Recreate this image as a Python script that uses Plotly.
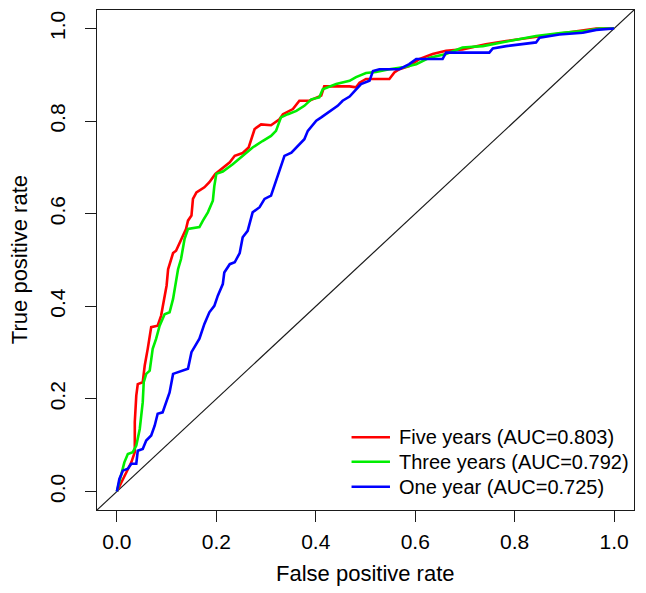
import plotly.graph_objects as go

# ---- data ----
five_fpr = [0, 0.012, 0.029, 0.036, 0.036, 0.039, 0.042, 0.052, 0.056, 0.062, 0.066, 0.069, 0.082, 0.089,
            0.092, 0.096, 0.1, 0.103, 0.109, 0.113, 0.119, 0.129, 0.139, 0.143, 0.15, 0.153, 0.16, 0.176,
            0.186, 0.198, 0.213, 0.227, 0.237, 0.253, 0.265, 0.27, 0.277, 0.29, 0.31, 0.327, 0.334, 0.354,
            0.367, 0.387, 0.401, 0.411, 0.417, 0.441, 0.468, 0.481, 0.488, 0.501, 0.548, 0.558, 0.568,
            0.588, 0.608, 0.635, 0.662, 0.695, 0.742, 0.783, 0.83, 0.856, 0.896, 0.937, 0.964, 1.0]
five_tpr = [0, 0.027, 0.063, 0.085, 0.15, 0.207, 0.232, 0.236, 0.272, 0.308, 0.337, 0.355, 0.358, 0.38,
            0.398, 0.423, 0.445, 0.48, 0.502, 0.515, 0.52, 0.545, 0.567, 0.585, 0.596, 0.632, 0.646, 0.657,
            0.668, 0.686, 0.7, 0.711, 0.725, 0.731, 0.743, 0.761, 0.783, 0.793, 0.791, 0.804, 0.815, 0.826,
            0.844, 0.844, 0.851, 0.855, 0.875, 0.875, 0.875, 0.873, 0.883, 0.891, 0.891, 0.905, 0.912,
            0.919, 0.934, 0.945, 0.952, 0.955, 0.966, 0.973, 0.98, 0.984, 0.991, 0.996, 1.0, 1.0]

three_fpr = [0, 0.009, 0.015, 0.022, 0.032, 0.039, 0.046, 0.049, 0.052, 0.054, 0.059, 0.066, 0.072, 0.079,
             0.086, 0.096, 0.106, 0.113, 0.116, 0.123, 0.129, 0.136, 0.143, 0.166, 0.173, 0.183, 0.193,
             0.196, 0.2, 0.213, 0.233, 0.253, 0.273, 0.293, 0.31, 0.32, 0.33, 0.344, 0.361, 0.377, 0.391,
             0.407, 0.414, 0.441, 0.468, 0.481, 0.501, 0.521, 0.548, 0.575, 0.602, 0.629, 0.662, 0.695,
             0.736, 0.789, 0.843, 0.896, 0.944, 0.97, 1.0]
three_tpr = [0, 0.035, 0.063, 0.081, 0.085, 0.099, 0.135, 0.164, 0.193, 0.236, 0.254, 0.261, 0.308, 0.33,
             0.358, 0.383, 0.387, 0.416, 0.437, 0.48, 0.502, 0.545, 0.567, 0.571, 0.585, 0.603, 0.628,
             0.66, 0.686, 0.691, 0.707, 0.725, 0.743, 0.757, 0.768, 0.779, 0.808, 0.815, 0.822, 0.833, 0.847,
             0.851, 0.869, 0.88, 0.887, 0.895, 0.904, 0.906, 0.912, 0.916, 0.923, 0.937, 0.945, 0.959,
             0.962, 0.973, 0.984, 0.991, 0.995, 1.0, 1.0]

one_fpr = [0, 0.005, 0.012, 0.022, 0.029, 0.039, 0.042, 0.052, 0.059, 0.069, 0.076, 0.082, 0.092, 0.099,
           0.106, 0.113, 0.123, 0.143, 0.15, 0.16, 0.166, 0.176, 0.186, 0.196, 0.203, 0.213, 0.216, 0.227,
           0.237, 0.247, 0.253, 0.263, 0.273, 0.287, 0.297, 0.31, 0.32, 0.33, 0.337, 0.351, 0.364, 0.377,
           0.384, 0.401, 0.411, 0.421, 0.434, 0.444, 0.454, 0.468, 0.478, 0.491, 0.508, 0.515, 0.528,
           0.568, 0.588, 0.602, 0.655, 0.662, 0.749, 0.756, 0.783, 0.843, 0.85, 0.89, 0.937, 0.964, 1.0]
one_tpr = [0, 0.027, 0.045, 0.049, 0.06, 0.06, 0.088, 0.092, 0.11, 0.121, 0.142, 0.168, 0.171, 0.193,
           0.214, 0.254, 0.258, 0.265, 0.301, 0.319, 0.33, 0.362, 0.387, 0.401, 0.423, 0.448, 0.473, 0.491,
           0.495, 0.515, 0.549, 0.563, 0.603, 0.614, 0.632, 0.639, 0.671, 0.703, 0.725, 0.732, 0.747, 0.761,
           0.779, 0.801, 0.808, 0.815, 0.826, 0.833, 0.844, 0.853, 0.865, 0.88, 0.887, 0.908, 0.912,
           0.912, 0.923, 0.934, 0.934, 0.948, 0.948, 0.957, 0.962, 0.97, 0.98, 0.987, 0.991, 0.997, 1.0]

series_names = ["Five years (AUC=0.803)", "Three years (AUC=0.792)", "One year (AUC=0.725)"]
series_colors = ["#FF0000", "#00EE00", "#0000FF"]
tick_vals = [0.0, 0.2, 0.4, 0.6, 0.8, 1.0]
tick_text = ["0.0", "0.2", "0.4", "0.6", "0.8", "1.0"]
axis_range = [-0.04, 1.04]

FONT = "Liberation Sans, Arial, Helvetica, sans-serif"

fig = go.Figure()

# diagonal reference line (abline 0,1)
fig.add_trace(go.Scatter(x=axis_range, y=axis_range, mode="lines",
                         line=dict(color="#1a1a1a", width=1.2), showlegend=False, hoverinfo="skip"))

for xs, ys, name, col in zip([five_fpr, three_fpr, one_fpr], [five_tpr, three_tpr, one_tpr],
                             series_names, series_colors):
    fig.add_trace(go.Scatter(x=xs, y=ys, mode="lines", name=name,
                             line=dict(color=col, width=2.6), showlegend=False))

axis_common = dict(range=axis_range, tickvals=tick_vals, ticktext=tick_text, showgrid=False,
                   zeroline=False, showline=True, mirror=True, linecolor="#1a1a1a", linewidth=1.2,
                   ticks="outside", ticklen=11, tickwidth=1.2, tickcolor="#1a1a1a",
                   tickfont=dict(family=FONT, size=21, color="black"))

fig.update_layout(
    width=646, height=593,
    margin=dict(l=97, r=12, t=10, b=83),
    paper_bgcolor="white", plot_bgcolor="white",
    xaxis=dict(**axis_common, ticklabelstandoff=2),
    yaxis=dict(**axis_common, tickangle=-90, ticklabelstandoff=12),
    showlegend=False,
)

# axis titles
fig.add_annotation(text="False positive rate", xref="paper", yref="paper", x=0.5, y=-0.126,
                   xanchor="center", yanchor="middle", showarrow=False,
                   font=dict(family=FONT, size=22, color="black"))
fig.add_annotation(text="True positive rate", xref="paper", yref="paper", x=-0.145, y=0.5,
                   xanchor="center", yanchor="middle", textangle=-90, showarrow=False,
                   font=dict(family=FONT, size=22, color="black"))

# legend (bottom right, no box)
legend_y = [0.1454, 0.0966, 0.0466]
for name, col, ly in zip(series_names, series_colors, legend_y):
    fig.add_shape(type="line", xref="paper", yref="paper", x0=0.474, x1=0.5456, y0=ly, y1=ly,
                  line=dict(color=col, width=2.6))
    fig.add_annotation(text=name, xref="paper", yref="paper", x=0.5587, y=ly,
                       xanchor="left", yanchor="middle", showarrow=False,
                       font=dict(family=FONT, size=20, color="black"))

fig.write_html("out.html", config={"displayModeBar": False},
               post_script="document.body.style.margin='0';document.body.style.overflow='hidden';")
